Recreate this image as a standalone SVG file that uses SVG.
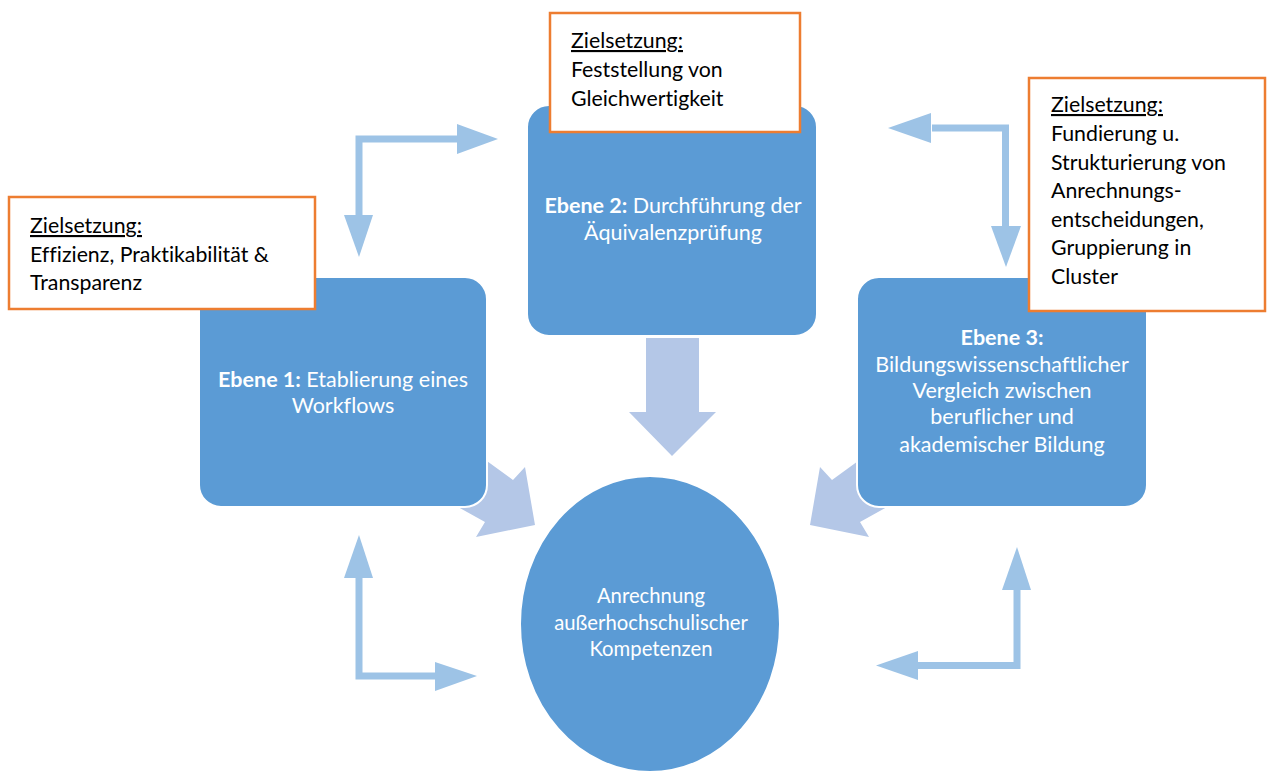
<svg xmlns="http://www.w3.org/2000/svg" width="1267" height="774" viewBox="0 0 1267 774">
<style>
.box{fill:#5B9BD5;stroke:#FFFFFF;stroke-width:2}
.callout{fill:#FFFFFF;stroke:#ED7D31;stroke-width:2.5}
.thin{fill:none;stroke:#9DC3E6;stroke-width:7;stroke-linejoin:miter}
.head{fill:#9DC3E6}
.block{fill:#B4C7E7}
text{font-variant-ligatures:none}
.wt{font-family:Lato,"Open Sans",sans-serif;font-size:21.5px;fill:#FFFFFF;text-anchor:middle}
.ct{font-size:20.3px}
.bt{font-family:Lato,"Open Sans",sans-serif;font-size:21.3px;fill:#000000}
.b{font-weight:bold}
</style>
<rect width="1267" height="774" fill="#FFFFFF"/>
<g id="connectors">
  <polygon class="block" points="646,338 699,338 699,412 716,412 672,456 629,412 646,412"/>
  <polygon class="block" points="480,456 513,480 525,467 535,525 476,537 485,522 449,502"/>
  <polygon class="block" points="865,456 832,480 820,467 810,525 869,537 860,522 896,502"/>
  <path class="thin" d="M359 216 L359 139 L458 139"/>
  <polygon class="head" points="457,124 498,139 457,154"/>
  <polygon class="head" points="344,215 373,215 359,257"/>
  <path class="thin" d="M932 128 L1005.5 128 L1005.5 227"/>
  <polygon class="head" points="931,113 888,128 931,143"/>
  <polygon class="head" points="991,226 1021,226 1006,267"/>
  <path class="thin" d="M359 577 L359 676 L436 676"/>
  <polygon class="head" points="344,578 373,578 359,535"/>
  <polygon class="head" points="435,662 477,676 435,691"/>
  <path class="thin" d="M1017 589 L1017 665.5 L917 665.5"/>
  <polygon class="head" points="1002,590 1031,590 1017,547"/>
  <polygon class="head" points="918,651 876,665.5 918,680"/>
</g>
<g id="ebene1">
  <rect class="box" x="199" y="277" width="288" height="230" rx="22"/>
  <text class="wt" x="343" y="387"><tspan class="b">Ebene 1:</tspan> Etablierung eines</text>
  <text class="wt" x="343" y="413">Workflows</text>
</g>
<g id="ebene2">
  <rect class="box" x="527" y="105" width="290" height="231" rx="22"/>
  <text class="wt" x="673" y="213"><tspan class="b">Ebene 2:</tspan> Durchführung der</text>
  <text class="wt" x="673" y="240">Äquivalenzprüfung</text>
</g>
<g id="ebene3">
  <rect class="box" x="857" y="277" width="290" height="230" rx="22"/>
  <text class="wt b" x="1002" y="345">Ebene 3:</text>
  <text class="wt" x="1002" y="372">Bildungswissenschaftlicher</text>
  <text class="wt" x="1002" y="398">Vergleich zwischen</text>
  <text class="wt" x="1002" y="424">beruflicher und</text>
  <text class="wt" x="1002" y="452">akademischer Bildung</text>
</g>
<g id="anrechnung">
  <ellipse class="box" cx="650" cy="624" rx="130" ry="148"/>
  <text class="wt ct" x="651" y="603">Anrechnung</text>
  <text class="wt ct" x="651" y="630">außerhochschulischer</text>
  <text class="wt ct" x="651" y="656">Kompetenzen</text>
</g>
<g id="ziel1">
  <rect class="callout" x="9" y="197" width="306" height="112"/>
  <text class="bt" x="30" y="233" text-decoration="underline">Zielsetzung:</text>
  <text class="bt" x="30" y="262">Effizienz, Praktikabilität &amp;</text>
  <text class="bt" x="30" y="290">Transparenz</text>
</g>
<g id="ziel2">
  <rect class="callout" x="550" y="13" width="250" height="119"/>
  <text class="bt" x="571" y="48" text-decoration="underline">Zielsetzung:</text>
  <text class="bt" x="571" y="77">Feststellung von</text>
  <text class="bt" x="571" y="106">Gleichwertigkeit</text>
</g>
<g id="ziel3">
  <rect class="callout" x="1029" y="78" width="236" height="233"/>
  <text class="bt" x="1051" y="112" text-decoration="underline">Zielsetzung:</text>
  <text class="bt" x="1051" y="141">Fundierung u.</text>
  <text class="bt" x="1051" y="170">Strukturierung von</text>
  <text class="bt" x="1051" y="198">Anrechnungs-</text>
  <text class="bt" x="1051" y="227">entscheidungen,</text>
  <text class="bt" x="1051" y="255">Gruppierung in</text>
  <text class="bt" x="1051" y="284">Cluster</text>
</g>
</svg>
